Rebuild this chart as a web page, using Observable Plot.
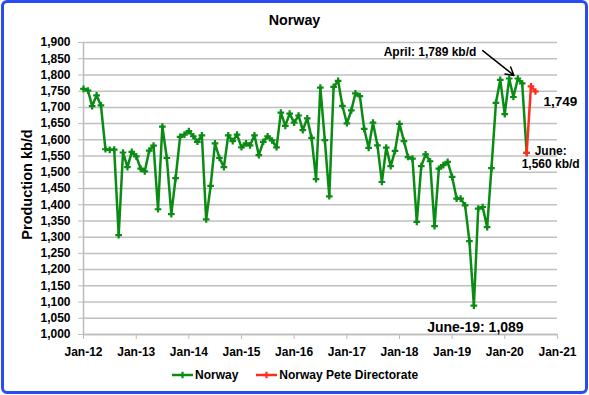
<!DOCTYPE html>
<html><head><meta charset="utf-8">
<script src="https://cdn.jsdelivr.net/npm/d3@7"></script>
<script src="https://cdn.jsdelivr.net/npm/@observablehq/plot@0.6"></script>
<style>
body{margin:0;background:#fff;font-family:"Liberation Sans",Arial,sans-serif;}
#wrap{position:relative;width:589px;height:395px;overflow:hidden;background:#fff;}
#chart{position:absolute;left:0;top:0;}
#frame{position:absolute;left:1px;top:0;width:587px;height:394px;box-sizing:border-box;border:3px solid #2a4af2;border-radius:6px;pointer-events:none;}
#legend{position:absolute;top:368px;left:172px;display:flex;align-items:center;font-size:12px;font-weight:bold;line-height:14px;color:#000;white-space:nowrap;}
#legend .item{display:flex;align-items:center;}
#legend svg{display:block;margin-right:2px;}
</style></head>
<body><div id="wrap"><div id="chart"></div><div id="legend"></div><div id="frame"></div></div>
<script>
// ---- data ----
const norwayStart = "2012-01";
const norwayValues = [
  1757,1752,1704,1737,1706,1571,1569,1570,1306,1561,1516,1563,
  1549,1511,1503,1567,1582,1386,1641,1544,1371,1482,1609,1616,
  1627,1611,1594,1614,1355,1458,1589,1544,1516,1614,1596,1616,
  1577,1589,1583,1614,1553,1594,1611,1598,1577,1684,1643,1681,
  1653,1675,1630,1666,1606,1479,1761,1599,1426,1763,1782,1705,
  1651,1691,1743,1735,1634,1575,1653,1583,1470,1576,1519,1566,
  1649,1596,1547,1542,1347,1519,1555,1534,1334,1511,1522,1532,
  1486,1419,1419,1398,1288,1089,1388,1393,1331,1513,1714,1785,
  1679,1789,1732,1789,1774,1560
];
const pdMonths = ["2020-06","2020-07","2020-08"];
const pdValues = [1560,1765,1749];
const seriesNames = ["Norway","Norway Pete Directorate"];
const xTickLabels = ["Jan-12","Jan-13","Jan-14","Jan-15","Jan-16","Jan-17","Jan-18","Jan-19","Jan-20","Jan-21"];
const yTickValues = [1000,1050,1100,1150,1200,1250,1300,1350,1400,1450,1500,1550,1600,1650,1700,1750,1800,1850,1900];
const titleText = "Norway";
const yLabelText = "Production kb/d";
const aprilNote = {month:"2020-04", value:1789, text:"April: 1,789 kb/d", fromMonth:"2019-08", fromValue:1875};
const juneNote = {month:"2020-06", value:1560, text:"June:\n1,560 kb/d"};
const lastNote = {month:"2020-08", value:1749, text:"1,749"};
const lowNote = {month:"2019-06", value:1089, text:"June-19: 1,089"};

// ---- build ----
const green = "#0a8c14", red = "#ff2d1e";
const parseM = d3.utcParse("%Y-%m");
const start = parseM(norwayStart);
const norway = norwayValues.map((v,i)=>({date:d3.utcMonth.offset(start,i), value:v}));
const pd = pdMonths.map((m,i)=>({date:parseM(m), value:pdValues[i]}));
const xTicks = xTickLabels.map(s=>d3.utcParse("%b-%y")(s));
const font = '"Liberation Sans", Arial, sans-serif';
const note = n => [{date:parseM(n.month), value:n.value, text:n.text}];

const chart = Plot.plot({
  width:589, height:395,
  marginLeft:83, marginRight:32, marginTop:42, marginBottom:61,
  style:{fontFamily:font, fontSize:"12px", fontWeight:"bold", color:"#000", background:"transparent", overflow:"visible"},
  x:{type:"utc", domain:[xTicks[0], xTicks[xTicks.length-1]]},
  y:{domain:[1000,1900]},
  marks:[
    Plot.gridY(yTickValues,{stroke:"#c0c0c0", strokeOpacity:1, strokeWidth:1.5}),
    Plot.ruleX([xTicks[0]],{stroke:"#bcbcbc", strokeWidth:1.5}),
    Plot.ruleY([1000],{stroke:"#bcbcbc", strokeWidth:1.5}),
    Plot.axisY(yTickValues,{tickFormat:d3.format(","), tickSize:5, tickPadding:8, stroke:"#bcbcbc", fill:"#000", label:null}),
    Plot.axisX(xTicks,{tickFormat:d3.utcFormat("%b-%y"), tickSize:5, tickPadding:8, stroke:"#bcbcbc", fill:"#000", label:null}),
    Plot.line(norway,{x:"date", y:"value", stroke:green, strokeWidth:2.5}),
    Plot.dot(norway,{x:"date", y:"value", symbol:"cross", r:2.8, fill:green}),
    Plot.line(pd,{x:"date", y:"value", stroke:red, strokeWidth:2.5}),
    Plot.dot(pd,{x:"date", y:"value", symbol:"cross", r:2.8, fill:red}),
    // title & y label
    Plot.text([titleText],{frameAnchor:"top", textAnchor:"middle", lineAnchor:"bottom", dx:-26, dy:-18, fontSize:14.3, fontWeight:"bold"}),
    Plot.text([yLabelText],{frameAnchor:"left", textAnchor:"middle", rotate:-90, dx:-56, dy:-4, fontSize:14.5, fontWeight:"bold"}),
    // annotations
    Plot.arrow([{x1:parseM(aprilNote.fromMonth), y1:aprilNote.fromValue, x2:parseM(aprilNote.month), y2:aprilNote.value}],
      {x1:"x1", y1:"y1", x2:"x2", y2:"y2", stroke:"#000", strokeWidth:1.5, headLength:9, insetEnd:5}),
    Plot.text(note(aprilNote),{x:"date", y:"value", text:"text", textAnchor:"end", lineAnchor:"bottom", dx:-41.5, dy:-23, fontSize:12, fontWeight:"bold"}),
    Plot.text(note(lastNote),{x:"date", y:"value", text:"text", textAnchor:"start", lineAnchor:"bottom", dx:8, dy:15, fontSize:13.5, fontWeight:"bold"}),
    Plot.text(note(juneNote),{x:"date", y:"value", text:"text", textAnchor:"middle", lineAnchor:"bottom", lineHeight:1.1, dx:24, dy:15.5, fontSize:12, fontWeight:"bold"}),
    Plot.text(note(lowNote),{x:"date", y:"value", text:"text", textAnchor:"middle", lineAnchor:"bottom", dx:1.5, dy:26, fontSize:14, fontWeight:"bold"})
  ]
});
document.getElementById("chart").appendChild(chart);

// legend
const legend = document.getElementById("legend");
const crossPath = d3.symbol(d3.symbolCross, 24)();
[[seriesNames[0], green],[seriesNames[1], red]].forEach(([name,col],i)=>{
  const item = document.createElement("div");
  item.className = "item";
  if (i>0) item.style.marginLeft = "18px";
  item.innerHTML = `<svg width="21" height="14"><line x1="0" x2="21" y1="7" y2="7" stroke="${col}" stroke-width="2.5"/><path d="${crossPath}" transform="translate(10.5,7)" fill="${col}"/></svg><span>${name}</span>`;
  legend.appendChild(item);
});
</script>
</body></html>
